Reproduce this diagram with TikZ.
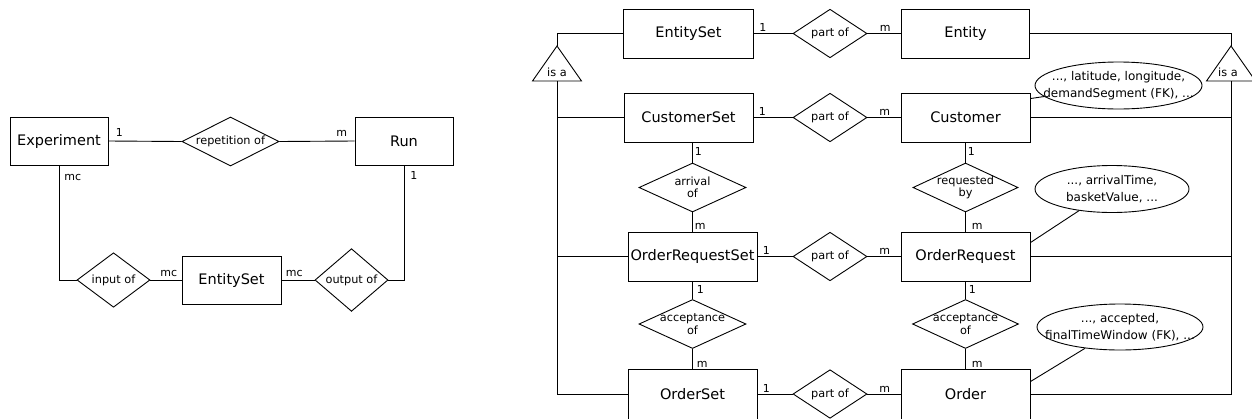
\documentclass[tikz,border=0pt]{standalone}
\usepackage{fontspec}
\setmainfont{DejaVu Sans}
\usetikzlibrary{shapes.geometric}

\tikzset{
  entity/.style={draw, rectangle, minimum width=129pt, minimum height=49pt, inner sep=0pt, font=\fontsize{14.5}{16}\selectfont},
  rel/.style={draw, diamond, minimum width=74pt, minimum height=48pt, inner sep=0pt, font=\fontsize{11.3}{12.3}\selectfont},
  reltext/.style={font=\fontsize{11.3}{12.3}\selectfont, align=center, inner sep=0pt},
  attrib/.style={draw, ellipse, inner sep=0pt, minimum height=47pt, label={[attrtext]center:#1}},
  attrtext/.style={font=\fontsize{12}{16.5}\selectfont, align=center, inner sep=0pt},
  card/.style={font=\fontsize{11}{12}\selectfont, inner sep=0pt},
}

\begin{document}
\begin{tikzpicture}[x=1pt, y=-1pt, line width=0.9pt]
\useasboundingbox (0,0) rectangle (1252,418);

% experiment part
\node[entity, minimum width=98pt, minimum height=48pt] (exp) at (59,141) {Experiment};
\node[entity, minimum width=98pt, minimum height=48pt] (run) at (404,141) {Run};
\node[rel, minimum width=97pt, minimum height=49pt, aspect=2] (rep) at (230.5,141.5) {repetition of};
\node[rel, minimum width=73pt] (inp) at (113.5,280) {input of};
\node[entity, minimum width=99pt, minimum height=48pt] (es) at (231.5,280) {EntitySet};
\node[rel, minimum width=73pt] (outp) at (351.5,280) {output of};

\draw (exp.east) -- (rep.west);
\draw (rep.east) -- (run.west);
\draw (exp.south) |- (inp.west);
\draw (inp.east) -- (es.west);
\draw (es.east) -- (outp.west);
\draw (outp.east) -| (run.south);

\node[card, anchor=south west] (cExp1) at ([xshift=7pt,yshift=4pt]exp.east) {1};
\node[card, anchor=south east] (cRunM) at ([xshift=-7pt,yshift=4pt]run.west) {m};
\node[card, anchor=north west] (cExpMc) at ([xshift=5pt,yshift=-8pt]exp.south) {mc};
\node[card, anchor=north west] (cRun1) at ([xshift=6pt,yshift=-6pt]run.south) {1};
\node[card, anchor=south east] (cEsL) at ([xshift=-4pt,yshift=3pt]es.west) {mc};
\node[card, anchor=south west] (cEsR) at ([xshift=4pt,yshift=3pt]es.east) {mc};

% entity sets and entities
\node[entity, minimum width=130pt] (eset) at (688.5,33.5) {EntitySet};
\node[rel] (p1) at (830,33.5) {part of};
\node[entity, minimum width=128pt] (ent) at (965.5,33.5) {Entity};

\node[entity] (cset) at (688.5,117.5) {CustomerSet};
\node[rel] (p2) at (830,117.5) {part of};
\node[entity] (cust) at (965.5,117.5) {Customer};

\node[rel, minimum width=107pt, minimum height=49pt, label={[reltext]center:arrival\\of}] (arr) at (692.5,187.5) {};
\node[rel, minimum width=105pt, minimum height=49pt, label={[reltext]center:requested\\by}] (req) at (965.5,187.5) {};

\node[entity] (orset) at (692.5,256.5) {OrderRequestSet};
\node[rel] (p3) at (830,256.5) {part of};
\node[entity] (oreq) at (965.5,256.5) {OrderRequest};

\node[rel, minimum width=107pt, minimum height=49pt, label={[reltext]center:acceptance\\of}] (acc1) at (692.5,324) {};
\node[rel, minimum width=106pt, minimum height=49pt, label={[reltext]center:acceptance\\of}] (acc2) at (965.5,324) {};

\node[entity, minimum height=50pt] (oset) at (692.5,394) {OrderSet};
\node[rel] (p4) at (830,394) {part of};
\node[entity, minimum height=50pt] (ord) at (965.5,394) {Order};

% attributes
\node[attrib={..., latitude, longitude,\\demandSegment (FK), ...}, minimum width=167pt] (custA) at (1118.5,85.5) {};
\node[attrib={..., arrivalTime,\\basketValue, ...}, minimum width=154pt] (reqA) at (1112,189) {};
\node[attrib={..., accepted,\\finalTimeWindow (FK), ...}, minimum width=166pt, minimum height=46pt] (ordA) at (1120,327) {};

\draw ([yshift=-6pt]cust.north east) -- (custA);
\draw ([yshift=-11pt]oreq.north east) -- (reqA);
\draw ([yshift=-13pt]ord.north east) -- (ordA);

% is a
\coordinate (isaL) at (557,46);
\coordinate (isaLbase) at (557,81);
\draw (isaL) -- ([xshift=24.5pt]isaLbase) -- ([xshift=-24.5pt]isaLbase) -- cycle;
\node[reltext] (isaLtext) at (557,72) {is a};
\coordinate (isaR) at (1231,46);
\coordinate (isaRbase) at (1231,81);
\draw (isaR) -- ([xshift=24.5pt]isaRbase) -- ([xshift=-24.5pt]isaRbase) -- cycle;
\node[reltext] (isaRtext) at (1228,72) {is a};

\draw (isaL) |- (eset.west);
\draw (isaLbase) |- (oset.west);
\draw (cset.west) -- (cset.west -| isaLbase);
\draw (orset.west) -- (orset.west -| isaLbase);
\draw (isaR) |- (ent.east);
\draw (isaRbase) |- (ord.east);
\draw (cust.east) -- (cust.east -| isaRbase);
\draw (oreq.east) -- (oreq.east -| isaRbase);

% part of
\draw (eset.east) -- (p1.west);
\draw (p1.east) -- (ent.west);
\draw (cset.east) -- (p2.west);
\draw (p2.east) -- (cust.west);
\draw (orset.east) -- (p3.west);
\draw (p3.east) -- (oreq.west);
\draw (oset.east) -- (p4.west);
\draw (p4.east) -- (ord.west);

% vertical chains
\coordinate (csetfoot) at (arr.north |- cset.south);
\draw (arr.north) -- (csetfoot);
\draw (arr.south) -- (orset.north);
\draw (orset.south) -- (acc1.north);
\draw (acc1.south) -- (oset.north);
\draw (req.north) -- (cust.south);
\draw (req.south) -- (oreq.north);
\draw (oreq.south) -- (acc2.north);
\draw (acc2.south) -- (ord.north);

% cardinalities
\node[card, anchor=south west] (cEset1) at ([xshift=5pt,yshift=1.5pt]eset.east) {1};
\node[card, anchor=south west] (cCset1r) at ([xshift=5pt,yshift=1.5pt]cset.east) {1};
\node[card, anchor=south west] (cOrset1r) at ([xshift=5pt,yshift=1.5pt]orset.east) {1};
\node[card, anchor=south west] (cOset1r) at ([xshift=5pt,yshift=1.5pt]oset.east) {1};
\node[card, anchor=south east] (cEntM) at ([xshift=-10pt,yshift=1.5pt]ent.west) {m};
\node[card, anchor=south east] (cCustM) at ([xshift=-10pt,yshift=1.5pt]cust.west) {m};
\node[card, anchor=south east] (cOreqMl) at ([xshift=-10pt,yshift=1.5pt]oreq.west) {m};
\node[card, anchor=south east] (cOrdMl) at ([xshift=-10pt,yshift=1.5pt]ord.west) {m};

\node[card, anchor=north west] (cCset1) at ([xshift=2pt,yshift=-5pt]csetfoot) {1};
\node[card, anchor=south west] (cOrsetM) at ([xshift=2pt,yshift=2pt]orset.north) {m};
\node[card, anchor=north west] (cOrset1) at ([xshift=4pt,yshift=-4pt]orset.south) {1};
\node[card, anchor=south west] (cOsetM) at ([xshift=4pt,yshift=1pt]oset.north) {m};
\node[card, anchor=north west] (cCust1) at ([xshift=2pt,yshift=-5pt]cust.south) {1};
\node[card, anchor=south west] (cOreqM) at ([xshift=6pt,yshift=2pt]oreq.north) {m};
\node[card, anchor=north west] (cOreq1) at ([xshift=3pt,yshift=-4pt]oreq.south) {1};
\node[card, anchor=south west] (cOrdM) at ([xshift=6pt,yshift=1pt]ord.north) {m};
\end{tikzpicture}
\end{document}
